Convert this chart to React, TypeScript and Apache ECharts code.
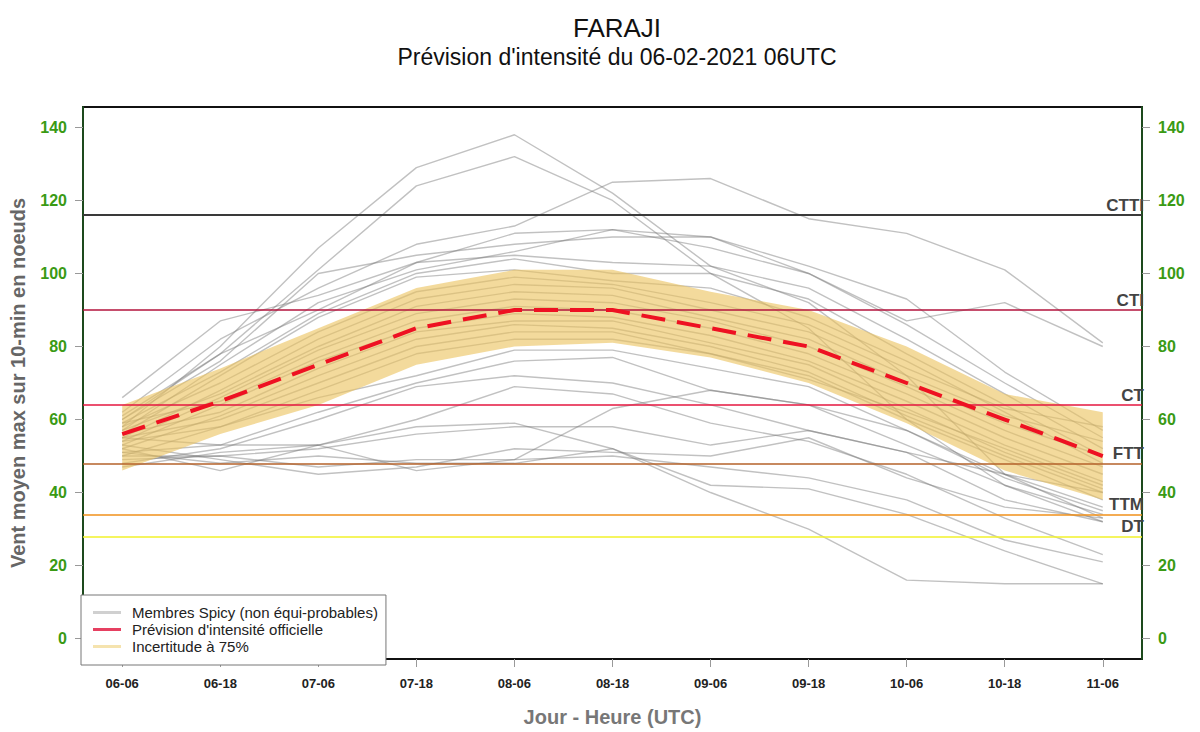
import React, { useEffect, useRef } from "react";
import * as echarts from "echarts";

const xLabels = ["06-06", "06-18", "07-06", "07-18", "08-06", "08-18", "09-06", "09-18", "10-06", "10-18", "11-06"];
const yTicks = [0, 20, 40, 60, 80, 100, 120, 140];
const xTicks = [0, 1, 2, 3, 4, 5, 6, 7, 8, 9, 10];

const officialForecast = [56, 65, 75, 85, 90, 90, 85, 80, 70, 60, 50];
const bandUpper = [64, 74, 85, 96, 101, 101, 95, 90, 80, 67, 62];
const bandLower = [46, 56, 64, 75, 80, 81, 77, 70, 59, 46, 38];

const spicyMembers: number[][] = [
  [58, 80, 107, 129, 138, 122, 102, 92, 72, 45, 33],
  [60, 78, 101, 124, 132, 120, 100, 85, 60, 42, 32],
  [62, 82, 96, 108, 113, 125, 126, 115, 111, 101, 81],
  [66, 87, 94, 103, 111, 112, 110, 100, 87, 92, 80],
  [60, 76, 100, 105, 108, 110, 110, 102, 93, 73, 57],
  [57, 75, 92, 101, 106, 112, 107, 100, 86, 70, 55],
  [61, 78, 90, 103, 105, 103, 102, 96, 82, 67, 52],
  [59, 73, 89, 100, 104, 100, 100, 93, 78, 64, 50],
  [56, 72, 88, 99, 101, 98, 96, 88, 76, 62, 48],
  [58, 70, 84, 95, 99, 97, 92, 86, 74, 63, 58],
  [55, 68, 82, 93, 97, 96, 90, 84, 72, 61, 54],
  [57, 67, 80, 91, 95, 94, 88, 82, 70, 59, 50],
  [54, 66, 79, 89, 93, 92, 87, 80, 69, 57, 47],
  [59, 65, 77, 87, 91, 90, 85, 78, 67, 55, 45],
  [53, 64, 76, 85, 89, 88, 83, 76, 65, 53, 43],
  [56, 62, 74, 84, 87, 87, 81, 75, 63, 51, 41],
  [52, 61, 72, 82, 86, 85, 80, 73, 61, 50, 40],
  [55, 60, 70, 80, 84, 84, 78, 72, 60, 49, 38],
  [50, 58, 68, 78, 82, 82, 78, 71, 62, 52, 42],
  [54, 58, 66, 72, 79, 79, 74, 69, 57, 45, 36],
  [51, 53, 62, 70, 76, 77, 68, 64, 53, 42, 34],
  [48, 52, 60, 69, 72, 70, 64, 57, 51, 38, 32],
  [52, 46, 53, 60, 69, 67, 59, 54, 45, 33, 23],
  [50, 50, 52, 56, 58, 58, 53, 57, 51, 45, 40],
  [53, 49, 45, 47, 52, 51, 50, 55, 44, 36, 33],
  [49, 50, 47, 49, 49, 50, 47, 44, 38, 27, 21],
  [51, 48, 50, 48, 48, 52, 42, 41, 34, 24, 15],
  [55, 53, 53, 58, 59, 52, 40, 30, 16, 15, 15],
  [47, 51, 53, 46, 49, 63, 68, 64, 57, 44, 35],
];

const thresholdNames = ["CTTI", "CTI", "CT", "FTT", "TTM", "DT"];
const thresholdValues = [116, 90, 64, 48, 34, 28];
const thresholdColors = ["#3a3a3a", "#b3133c", "#e4163f", "#b5622a", "#f0901a", "#f2f22a"];

const MEMBER_NAME = "Membres Spicy (non équi-probables)";
const OFFICIAL_NAME = "Prévision d'intensité officielle";
const BAND_NAME = "Incertitude à 75%";
const legendNames = [MEMBER_NAME, OFFICIAL_NAME, BAND_NAME];
const legendColors = ["#c4c4c4", "#e0103a", "#f2dc9a"];

const FONT = "Liberation Sans";

export default function App() {
  const ref = useRef<HTMLDivElement>(null);

  useEffect(() => {
    if (!ref.current) return;
    const chart = echarts.init(ref.current, null, { renderer: "svg" });
    const toXY = (arr: number[]) => arr.map((v, i) => [i, v]);

    const memberSeries = spicyMembers.map((m, k) => ({
      type: "line",
      name: "member" + k,
      data: toXY(m),
      symbol: "none",
      silent: true,
      z: 2,
      lineStyle: { color: "rgba(120,120,120,0.46)", width: 1.4 },
      itemStyle: { color: "#c4c4c4" },
    }));

    // empty scatter series used only as legend samples (plain solid rectangles)
    const legendProxies = legendNames.map((name, i) => ({
      type: "scatter",
      name,
      data: [],
      silent: true,
      itemStyle: { color: legendColors[i] },
    }));

    const yAxisCommon = {
      type: "value",
      min: -5.6,
      max: 145.6,
      splitLine: { show: false },
      axisLine: { show: true, onZero: false, lineStyle: { color: "#1d4a1d", width: 2 } },
      axisTick: { show: true, customValues: yTicks, length: 8, lineStyle: { color: "#999", width: 1 } },
      axisLabel: {
        customValues: yTicks,
        color: "#3a9a14",
        fontWeight: "bold",
        fontSize: 16,
        fontFamily: FONT,
        margin: 16,
      },
    };

    const option: any = {
      animation: false,
      textStyle: { fontFamily: FONT },
      title: [
        {
          text: "FARAJI",
          left: 612,
          textAlign: "center",
          top: 10,
          textStyle: { fontSize: 26, fontWeight: "normal", color: "#111", fontFamily: FONT },
        },
        {
          text: "Prévision d'intensité du 06-02-2021 06UTC",
          left: 612,
          textAlign: "center",
          top: 40,
          textStyle: { fontSize: 23, fontWeight: "normal", color: "#111", fontFamily: FONT },
        },
      ],
      grid: {
        left: 81,
        right: 58,
        top: 107,
        bottom: 68,
        show: true,
        borderColor: "#111",
        borderWidth: 2,
        backgroundColor: "transparent",
      },
      legend: {
        left: 81,
        top: 595,
        orient: "vertical",
        selectedMode: false,
        icon: "rect",
        itemWidth: 28,
        itemHeight: 3,
        itemGap: 2,
        backgroundColor: "#fff",
        borderColor: "#777",
        borderWidth: 1,
        borderRadius: 0,
        padding: [10, 8, 11, 12],
        textStyle: { fontSize: 15, color: "#222", fontFamily: FONT, padding: [0, 0, 0, 6] },
        data: legendNames.map((name, i) => ({
          name,
          icon: "rect",
          itemStyle: { color: legendColors[i], borderWidth: 0 },
        })),
        z: 20,
      },
      xAxis: {
        type: "value",
        min: -0.4,
        max: 10.4,
        splitLine: { show: false },
        axisLine: { show: false, onZero: false },
        axisTick: { show: true, customValues: xTicks, length: 8, lineStyle: { color: "#999" } },
        axisLabel: {
          customValues: xTicks,
          formatter: (v: number) => xLabels[Math.round(v)] ?? "",
          color: "#222",
          fontWeight: "bold",
          fontSize: 13,
          fontFamily: FONT,
          margin: 18,
        },
        name: "Jour - Heure (UTC)",
        nameLocation: "middle",
        nameGap: 48,
        nameTextStyle: { fontSize: 20, fontWeight: "bold", color: "#777", fontFamily: FONT },
      },
      yAxis: [
        {
          ...yAxisCommon,
          position: "left",
          name: "Vent moyen max sur 10-min en noeuds",
          nameLocation: "middle",
          nameRotate: 90,
          nameGap: 55,
          nameTextStyle: { fontSize: 20, fontWeight: "bold", color: "#666", fontFamily: FONT },
        },
        { ...yAxisCommon, position: "right" },
      ],
      series: [
        ...legendProxies,
        ...memberSeries,
        {
          type: "custom",
          name: "band",
          silent: true,
          z: 3,
          itemStyle: { color: "#f2dc9a" },
          data: bandUpper.map((u, i) => [i, bandLower[i], u]),
          encode: { x: 0, y: [1, 2] },
          renderItem: (params: any, api: any) => {
            if (params.dataIndex !== 0) return null;
            const top = bandUpper.map((u, i) => api.coord([i, u]));
            const bot = bandLower.map((l, i) => api.coord([i, l])).reverse();
            return {
              type: "polygon",
              shape: { points: top.concat(bot) },
              style: { fill: "rgba(236,196,96,0.62)" },
            };
          },
        },
        {
          type: "line",
          name: "seuils",
          data: [],
          silent: true,
          z: 4,
          markLine: {
            silent: true,
            symbol: ["none", "none"],
            animation: false,
            data: thresholdValues.map((v, i) => ({
              yAxis: v,
              name: thresholdNames[i],
              lineStyle: { color: thresholdColors[i], width: i === 0 ? 2 : 1.6, type: "solid" },
              label: {
                show: true,
                position: "insideEndTop",
                formatter: thresholdNames[i],
                color: "#444",
                fontWeight: "bold",
                fontSize: 17,
                fontFamily: FONT,
                distance: [-2, 1],
              },
            })),
          },
        },
        {
          type: "line",
          name: "officialTrace",
          data: toXY(officialForecast),
          symbol: "none",
          silent: true,
          z: 5,
          lineStyle: { color: "#ee1122", width: 4, type: [24, 12] },
          itemStyle: { color: "#e0103a" },
        },
      ],
    };

    chart.setOption(option);
    return () => chart.dispose();
  }, []);

  return (
    <div
      ref={ref}
      style={{ position: "fixed", left: 0, top: 0, width: 1200, height: 732, background: "#fff" }}
    />
  );
}
